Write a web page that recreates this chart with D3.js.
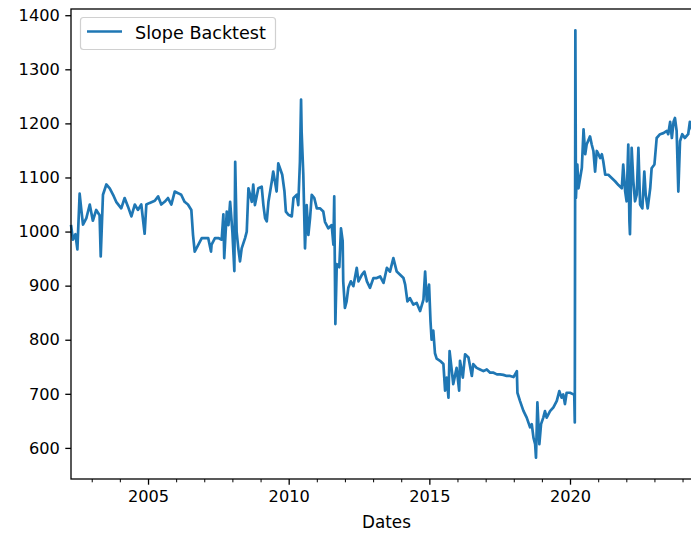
<!DOCTYPE html>
<html>
<head>
<meta charset="utf-8">
<script src="https://cdn.jsdelivr.net/npm/d3@7"></script>
<style>
  body { margin: 0; background: #fff; }
  svg { display: block; }
  text { font-family: "DejaVu Sans", sans-serif; fill: #000; }
</style>
</head>
<body>
<svg id="chart" width="691" height="533"></svg>
<script>
// Backtest equity curve: dates as fractional years, values as portfolio level
const seriesName = "Slope Backtest";
const xLabel = "Dates";

const years = [
  2002.27, 2002.33, 2002.42, 2002.49, 2002.57, 2002.63, 2002.69, 2002.81, 2002.93, 2003.04,
  2003.16, 2003.28, 2003.32, 2003.40, 2003.52, 2003.64, 2003.76, 2003.87, 2004.05, 2004.17,
  2004.29, 2004.41, 2004.53, 2004.64, 2004.76, 2004.88, 2004.94, 2005.06, 2005.24, 2005.36,
  2005.47, 2005.59, 2005.71, 2005.83, 2005.95, 2006.07, 2006.18, 2006.30, 2006.42, 2006.54,
  2006.60, 2006.66, 2006.79, 2006.91, 2007.14, 2007.24, 2007.26, 2007.38, 2007.50, 2007.62,
  2007.68, 2007.71, 2007.80, 2007.86, 2007.92, 2008.00, 2008.07, 2008.10, 2008.15, 2008.21,
  2008.27, 2008.33, 2008.45, 2008.51, 2008.57, 2008.69, 2008.74, 2008.80, 2008.92, 2009.04,
  2009.10, 2009.16, 2009.22, 2009.28, 2009.34, 2009.40, 2009.45, 2009.51, 2009.57, 2009.63,
  2009.69, 2009.77, 2009.85, 2009.90, 2009.99, 2010.11, 2010.17, 2010.29, 2010.34, 2010.40,
  2010.44, 2010.46, 2010.52, 2010.58, 2010.64, 2010.70, 2010.76, 2010.82, 2010.91, 2011.00,
  2011.11, 2011.23, 2011.29, 2011.41, 2011.53, 2011.59, 2011.62, 2011.66, 2011.71, 2011.80,
  2011.86, 2011.92, 2011.94, 2012.00, 2012.06, 2012.12, 2012.21, 2012.30, 2012.42, 2012.48,
  2012.60, 2012.69, 2012.78, 2012.89, 2013.01, 2013.13, 2013.25, 2013.37, 2013.49, 2013.60,
  2013.72, 2013.84, 2013.96, 2014.08, 2014.14, 2014.22, 2014.31, 2014.43, 2014.55, 2014.67,
  2014.79, 2014.85, 2014.91, 2014.99, 2015.04, 2015.08, 2015.14, 2015.20, 2015.26, 2015.38,
  2015.50, 2015.56, 2015.62, 2015.68, 2015.72, 2015.80, 2015.85, 2015.97, 2016.06, 2016.09,
  2016.19, 2016.27, 2016.39, 2016.51, 2016.56, 2016.68, 2016.80, 2016.92, 2017.04, 2017.16,
  2017.28, 2017.40, 2017.51, 2017.63, 2017.75, 2017.87, 2017.99, 2018.11, 2018.13, 2018.22,
  2018.34, 2018.46, 2018.58, 2018.64, 2018.70, 2018.76, 2018.79, 2018.84, 2018.91, 2018.97,
  2019.05, 2019.11, 2019.17, 2019.29, 2019.41, 2019.53, 2019.62, 2019.70, 2019.76, 2019.82,
  2019.88, 2020.00, 2020.12, 2020.15, 2020.17, 2020.19, 2020.21, 2020.26, 2020.30, 2020.42,
  2020.48, 2020.54, 2020.59, 2020.71, 2020.77, 2020.83, 2020.89, 2020.95, 2021.01, 2021.07,
  2021.13, 2021.18, 2021.25, 2021.36, 2021.48, 2021.60, 2021.72, 2021.84, 2021.89, 2021.96,
  2022.01, 2022.07, 2022.11, 2022.13, 2022.19, 2022.25, 2022.31, 2022.37, 2022.43, 2022.49,
  2022.57, 2022.64, 2022.69, 2022.76, 2022.85, 2022.90, 2023.00, 2023.08, 2023.20, 2023.32,
  2023.44, 2023.49, 2023.56, 2023.62, 2023.68, 2023.73, 2023.79, 2023.85, 2023.91, 2023.99,
  2024.08, 2024.20, 2024.26, 2024.33
];

const values = [
  1010, 985, 995, 967, 1070, 1040, 1013, 1025, 1050, 1020,
  1040, 1030, 954, 1068, 1087, 1080, 1068, 1055, 1043, 1062,
  1046, 1028, 1050, 1040, 1050, 996, 1050, 1053, 1057, 1065,
  1050, 1055, 1062, 1050, 1074, 1071, 1068, 1055, 1050, 1040,
  994, 963, 976, 988, 988, 963, 976, 988, 988, 985,
  1032, 951, 1037, 1012, 1055, 1000, 927, 1129, 1000, 969,
  945, 969, 988, 1000, 1080, 1055, 1087, 1049, 1080, 1083,
  1049, 1025, 1019, 1055, 1074, 1093, 1111, 1093, 1074, 1126,
  1117, 1105, 1074, 1037, 1031, 1028, 1062, 1068, 1049, 1129,
  1244, 1185, 1105, 969, 1049, 994, 1025, 1068, 1062, 1043,
  1043, 1037, 1018, 1006, 1012, 976, 1065, 829, 940, 934,
  1006, 982, 908, 859, 871, 896, 908, 899, 933, 908,
  920, 926, 908, 896, 914, 914, 917, 905, 933, 926,
  951, 926, 920, 914, 902, 871, 877, 865, 868, 853,
  874, 926, 871, 902, 835, 800, 817, 775, 765, 761,
  755, 706, 730, 693, 779, 742, 718, 748, 706, 761,
  730, 773, 767, 733, 755, 748, 745, 742, 745, 739,
  739, 736, 736, 735, 733, 733, 731, 742, 702, 687,
  669, 656, 638, 644, 619, 607, 582, 684, 607, 644,
  656, 668, 656, 668, 675, 687, 705, 693, 699, 681,
  702, 702, 699, 700, 647, 1372, 1062, 1124, 1080, 1118,
  1189, 1143, 1161, 1176, 1161, 1149, 1111, 1149, 1143, 1136,
  1143, 1130, 1105, 1105, 1099, 1093, 1086, 1080, 1124, 1074,
  1056, 1161, 1019, 995, 1155, 1093, 1056, 1068, 1155, 1050,
  1043, 1111, 1068, 1043, 1080, 1117, 1124, 1173, 1180, 1182,
  1186, 1180, 1203, 1173, 1203, 1210, 1186, 1074, 1167, 1180,
  1173, 1180, 1203, 1190
];

const yTicks = [600, 700, 800, 900, 1000, 1100, 1200, 1300, 1400];
const xMajorYears = [2005, 2010, 2015, 2020];
const xMinorYears = [2003, 2004, 2006, 2007, 2008, 2009, 2011, 2012, 2013, 2014,
                     2016, 2017, 2018, 2019, 2021, 2022, 2023, 2024];

// fractional year -> Date
function yearToDate(y) {
  const yr = Math.floor(y);
  const a = new Date(yr, 0, 1), b = new Date(yr + 1, 0, 1);
  return new Date(+a + (y - yr) * (b - a));
}

const data = years.map((t, i) => ({ date: yearToDate(t), value: values[i] }));

const plot = { left: 71, top: 9, right: 702, bottom: 479 };
const svg = d3.select("#chart");

const xStart = 2002.263, xEnd = 2024.69;
const x = d3.scaleTime()
  .domain([yearToDate(xStart), yearToDate(xEnd)])
  .range([plot.left, plot.right]);

const [vmin, vmax] = d3.extent(values);
const pad = (vmax - vmin) * 0.05;
const y = d3.scaleLinear()
  .domain([vmin - pad, vmax + pad])
  .range([plot.bottom, plot.top]);

const fontSize = "16.2px";

// series line
svg.append("path")
  .datum(data)
  .attr("fill", "none")
  .attr("stroke", "#1f77b4")
  .attr("stroke-width", 2.7)
  .attr("stroke-linejoin", "round")
  .attr("stroke-linecap", "square")
  .attr("d", d3.line().x(d => x(d.date)).y(d => y(d.value)));

// y axis
const yAxis = svg.append("g")
  .attr("transform", `translate(${plot.left},0)`)
  .call(d3.axisLeft(y).tickValues(yTicks).tickFormat(d3.format("d")).tickSize(5.7).tickPadding(5.5));
yAxis.select(".domain").remove();
yAxis.selectAll(".tick line").attr("stroke", "#000").attr("stroke-width", 1.3);
yAxis.selectAll(".tick text").style("font-size", fontSize).attr("fill", "#1a1a1a");

// x axis: major ticks with labels, minor ticks each year
const xAxis = svg.append("g")
  .attr("transform", `translate(0,${plot.bottom})`)
  .call(d3.axisBottom(x).tickValues(xMajorYears.map(yearToDate))
    .tickFormat(d3.timeFormat("%Y")).tickSize(5.7).tickPadding(5.5));
xAxis.select(".domain").remove();
xAxis.selectAll(".tick line").attr("stroke", "#000").attr("stroke-width", 1.3);
xAxis.selectAll(".tick text").style("font-size", fontSize).attr("fill", "#1a1a1a");

const xMinor = svg.append("g")
  .attr("transform", `translate(0,${plot.bottom})`)
  .call(d3.axisBottom(x).tickValues(xMinorYears.map(yearToDate)).tickFormat("").tickSize(3.3));
xMinor.select(".domain").remove();
xMinor.selectAll(".tick line").attr("stroke", "#000").attr("stroke-width", 1);

// spines
const spines = svg.append("g").attr("stroke", "#000").attr("stroke-width", 1.3).attr("fill", "none");
spines.append("rect")
  .attr("x", plot.left).attr("y", plot.top)
  .attr("width", plot.right - plot.left).attr("height", plot.bottom - plot.top);

// x axis title
svg.append("text")
  .attr("x", (plot.left + plot.right) / 2)
  .attr("y", 528)
  .attr("text-anchor", "middle")
  .attr("fill", "#1a1a1a")
  .style("font-size", "16.8px")
  .text(xLabel);

// legend
const legend = svg.append("g");
legend.append("rect")
  .attr("x", 80.5).attr("y", 17.5).attr("width", 195).attr("height", 32)
  .attr("rx", 3).attr("fill", "#fff").attr("fill-opacity", 0.8)
  .attr("stroke", "#d0d0d0").attr("stroke-width", 1.2);
legend.append("line")
  .attr("x1", 87).attr("x2", 122).attr("y1", 31.5).attr("y2", 31.5)
  .attr("stroke", "#1f77b4").attr("stroke-width", 2.7);
legend.append("text")
  .attr("x", 135).attr("y", 38.5)
  .attr("fill", "#1a1a1a")
  .style("font-size", "17.6px")
  .text(seriesName);
</script>
</body>
</html>
